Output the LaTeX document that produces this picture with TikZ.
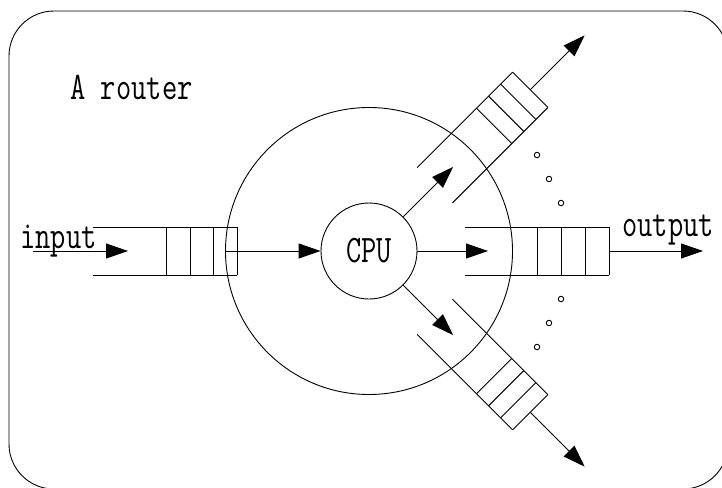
\documentclass[tikz,border=0pt]{standalone}
\usepackage{fontspec}
\setmonofont{Latin Modern Mono}[FakeStretch=0.76]
\usetikzlibrary{arrows.meta}
\tikzset{
  lbl/.style={inner sep=0pt, font=\ttfamily\fontsize{39pt}{42pt}\selectfont},
  arr/.style={-{Triangle[length=22pt,width=15pt]}},
  dot/.style={circle, draw, line width=0.9pt, minimum size=5.5pt, inner sep=0pt},
}
\begin{document}
\begin{tikzpicture}[x=1pt,y=-1pt,line width=0.9pt]
\useasboundingbox (0,0) rectangle (722,487);
\clip (0,0) rectangle (722,487);
% frame
\draw[rounded corners=45pt] (9,11) rectangle (728,489);
\node[lbl, anchor=base west] (title) at (70,99) {A router};
% circles
\node[circle, draw, minimum size=287pt, inner sep=0pt] (core) at (369,251) {};
\node[circle, draw, fill=white, minimum size=96pt, inner sep=0pt, lbl] (cpu) at (369,251) {CPU};
% input queue
\draw (93,227) -- (237,227) (93,275) -- (237,275);
\foreach \x in {166,190,213,237} \draw (\x,227) -- (\x,275);
\node[lbl, anchor=base west] (inlbl) at (20,248) {input};
\coordinate (in0) at (33,251);
\coordinate (in1) at (128,251);
\draw[arr] (in0) -- (in1);
\draw[arr] (core.west) -- (cpu.west);
% output queue (horizontal)
\draw (465,227) -- (609,227) (465,275) -- (609,275);
\foreach \x in {537,561,585,609} \draw (\x,227) -- (\x,275);
\coordinate (oq-in) at (488,251);
\coordinate (oq-end) at (609,251);
\coordinate (out) at (703,251);
\draw[arr] (cpu.east) -- (oq-in);
\draw[arr] (oq-end) -- (out);
\node[lbl, anchor=base west] (outlbl) at (622,236) {output};
% upper diagonal queue
\begin{scope}[shift={(369,251)}, rotate=45]
  \draw (93,-25) -- (228,-25) (93,25) -- (228,25);
  \foreach \x in {177,194,211,228} \draw (\x,-25) -- (\x,25);
  \coordinate (uq-in) at (119,0);
  \coordinate (uq-end) at (228,0);
  \coordinate (uq-out) at (305,0);
\end{scope}
\draw[arr] (cpu.45) -- (uq-in);
\draw[arr] (uq-end) -- (uq-out);
% lower diagonal queue
\begin{scope}[shift={(369,251)}, rotate=-45]
  \draw (93,-25) -- (228,-25) (93,25) -- (228,25);
  \foreach \x in {177,194,211,228} \draw (\x,-25) -- (\x,25);
  \coordinate (lq-in) at (119,0);
  \coordinate (lq-end) at (228,0);
  \coordinate (lq-out) at (305,0);
\end{scope}
\draw[arr] (cpu.-45) -- (lq-in);
\draw[arr] (lq-end) -- (lq-out);
% dots
\node[dot] (d1) at (537,155) {};
\node[dot] (d2) at (549,179) {};
\node[dot] (d3) at (561,203) {};
\node[dot] (d4) at (561,299) {};
\node[dot] (d5) at (549,323) {};
\node[dot] (d6) at (537,347) {};
\end{tikzpicture}
\end{document}
